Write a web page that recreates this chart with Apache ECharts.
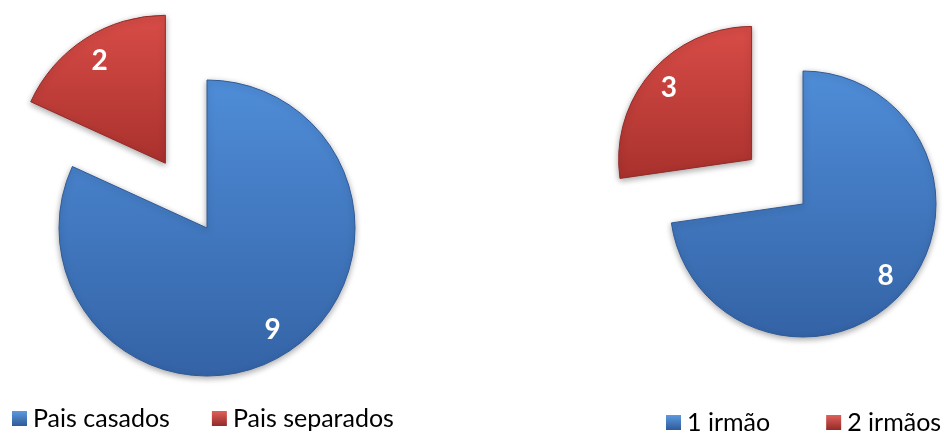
<!DOCTYPE html>
<html>
<head>
<meta charset="utf-8">
<script src="https://cdn.jsdelivr.net/npm/echarts@6/dist/echarts.min.js"></script>
<style>
	html, body { margin: 0; padding: 0; background: #fff; }
	#chart { width: 944px; height: 437px; }
</style>
</head>
<body>
<div id="chart"></div>
<script>
var paisNomes = ['Pais casados', 'Pais separados'];
var paisValores = [9, 2];
var irmaosNomes = ['1 irmão', '2 irmãos'];
var irmaosValores = [8, 3];

(function() {
	var dom = document.getElementById("chart");
	var myChart = echarts.init(dom);

	function grad(top, bottom) {
		return new echarts.graphic.LinearGradient(0, 0, 0, 1, [
			{ offset: 0, color: top },
			{ offset: 1, color: bottom }
		]);
	}

	var blue = { fill: grad('#4f8dd8', '#3463a6'), border: '#2f5a97', legend: grad('#5c9ae0', '#2f5a97') };
	var red = { fill: grad('#d84c47', '#a9312d'), border: '#922a27', legend: grad('#e0605b', '#922a27') };
	var cores = [blue, red];

	function buildData(nomes, valores, withStyle) {
		var out = [];
		for (var i = 0; i < nomes.length; i++) {
			var item = { name: nomes[i], value: valores[i], selected: i === 1 };
			if (withStyle) {
				item.itemStyle = {
					color: cores[i].fill,
					borderColor: cores[i].border,
					borderWidth: 1,
					shadowBlur: 6,
					shadowOffsetY: 2,
					shadowColor: 'rgba(0,0,0,0.35)'
				};
			} else {
				item.itemStyle = { color: 'rgba(0,0,0,0)' };
			}
			out.push(item);
		}
		return out;
	}

	// the shaped slices
	function pieSeries(nomes, valores, center, radius, offset) {
		return {
			type: 'pie',
			center: center,
			radius: radius,
			startAngle: 90,
			clockwise: true,
			selectedMode: 'single',
			selectedOffset: offset,
			silent: true,
			label: { show: false },
			labelLine: { show: false },
			emphasis: { disabled: true },
			animation: false,
			data: buildData(nomes, valores, true)
		};
	}

	// invisible ring only to place the labels at ~80% of the radius
	function labelSeries(nomes, valores, center, radius, offset) {
		return {
			type: 'pie',
			center: center,
			radius: [radius * 0.6, radius],
			startAngle: 90,
			clockwise: true,
			selectedMode: 'single',
			selectedOffset: offset,
			silent: true,
			legendHoverLink: false,
			label: {
				show: true,
				position: 'inside',
				formatter: '{c}',
				color: '#fff',
				fontFamily: 'Lato',
				fontWeight: 'bold',
				fontSize: 28
			},
			labelLine: { show: false },
			emphasis: { disabled: true },
			animation: false,
			data: buildData(nomes, valores, false)
		};
	}

	function legendData(nomes) {
		return nomes.map(function(n, i) {
			return { name: n, itemStyle: { color: cores[i].legend, borderWidth: 0 } };
		});
	}

	var legendText = { color: '#000', fontFamily: 'Lato', fontSize: 25, padding: [0, 0, 0, 1] };

	option = {
		legend: [
			{
				left: 12,
				top: 406,
				width: 600,
				padding: 0,
				icon: 'rect',
				itemWidth: 15,
				itemHeight: 15,
				itemGap: 42,
				itemStyle: { borderWidth: 0 },
				textStyle: legendText,
				selectedMode: false,
				data: legendData(paisNomes)
			},
			{
				left: 666,
				top: 410,
				width: 600,
				padding: 0,
				icon: 'rect',
				itemWidth: 15,
				itemHeight: 15,
				itemGap: 56,
				itemStyle: { borderWidth: 0 },
				textStyle: legendText,
				selectedMode: false,
				data: legendData(irmaosNomes)
			}
		],
		series: [
			pieSeries(paisNomes, paisValores, [207, 228], 148, 77),
			labelSeries(paisNomes, paisValores, [207, 228], 148, 77),
			pieSeries(irmaosNomes, irmaosValores, [803, 204], 133, 68),
			labelSeries(irmaosNomes, irmaosValores, [803, 204], 133, 68)
		]
	};

	if (option && typeof option === "object") {
		myChart.setOption(option, true);
	}
})();
</script>
</body>
</html>
